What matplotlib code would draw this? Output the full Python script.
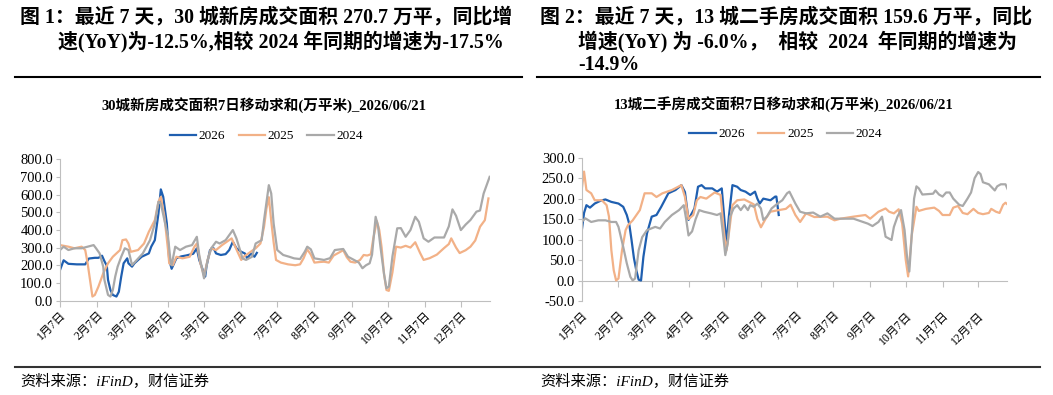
import matplotlib
matplotlib.use("Agg")
import matplotlib.pyplot as plt
from matplotlib.lines import Line2D

SERIF = ["Liberation Serif", "Noto Sans CJK SC"]
plt.rcParams["font.family"] = SERIF

# x axis: days counted from Jan 7
month_ticks = [0, 31, 59, 90, 120, 151, 181, 212, 243, 273, 304, 334]
month_labels = ["1月7日", "2月7日", "3月7日", "4月7日", "5月7日", "6月7日",
                "7月7日", "8月7日", "9月7日", "10月7日", "11月7日", "12月7日"]
years = ["2026", "2025", "2024"]

# 30城新房 7日移动求和 (万平米)
new_2026_day = [0, 3, 7, 14, 21, 24, 29, 32, 35, 37, 39, 40, 42, 44, 47, 49, 51, 53, 56, 57,
                60, 62, 68, 74, 76, 79, 82, 84, 86, 89, 91, 93, 97, 101, 105, 111, 114, 116, 119,
                121, 122, 125, 128, 130, 134, 138, 141, 144, 147, 151, 154, 156, 159, 162, 164]
new_2026_val = [173, 228, 208, 205, 205, 238, 242, 242, 254, 223, 197, 117, 60, 32, 23, 50, 136,
                211, 239, 211, 192, 211, 248, 267, 305, 342, 493, 629, 587, 437, 230, 180, 240,
                250, 255, 265, 296, 230, 173, 136, 192, 286, 296, 267, 258, 263, 286, 333, 296,
                276, 267, 239, 267, 248, 270]

new_2025_day = [0, 7, 12, 18, 21, 23, 25, 27, 29, 32, 36, 40, 44, 47, 50, 52, 55, 57, 59, 65,
                70, 74, 79, 82, 84, 87, 90, 91, 94, 97, 102, 108, 112, 114, 117, 120, 123, 126,
                130, 135, 139, 143, 146, 151, 153, 157, 163, 167, 170, 172, 174, 176, 178, 180,
                184, 190, 196, 200, 203, 206, 209, 212, 216, 220, 224, 228, 232, 236, 239, 242,
                246, 250, 253, 256, 259, 261, 264, 266, 268, 270, 272, 274, 277, 280, 284, 288,
                292, 296, 300, 303, 308, 314, 320, 324, 326, 330, 333, 338, 342, 346, 350, 354, 357]
new_2025_val = [314, 305, 296, 305, 286, 211, 117, 23, 32, 79, 154, 211, 248, 267, 286, 342,
                346, 323, 276, 286, 323, 389, 455, 559, 587, 474, 286, 211, 200, 248, 239, 248,
                305, 323, 211, 140, 230, 296, 286, 314, 333, 352, 305, 230, 248, 267, 296, 323,
                417, 520, 585, 450, 330, 230, 215, 205, 200, 205, 240, 290, 260, 215, 218, 220,
                215, 255, 270, 285, 245, 220, 215, 230, 258, 255, 262, 350, 450, 400, 300, 150,
                60, 55, 160, 305, 300, 310, 300, 330, 270, 230, 240, 260, 297, 320, 352, 300,
                269, 285, 305, 340, 418, 455, 578]

new_2024_day = [0, 3, 7, 12, 18, 23, 28, 30, 33, 36, 37, 40, 42, 44, 46, 48, 51, 54, 57, 60,
                64, 69, 75, 79, 82, 84, 87, 90, 92, 93, 96, 100, 105, 110, 114, 116, 120, 123,
                126, 130, 133, 138, 144, 147, 150, 152, 155, 160, 163, 168, 170, 174, 176, 178,
                181, 186, 191, 195, 200, 204, 206, 209, 212, 220, 225, 229, 236, 240, 245, 249,
                252, 255, 258, 260, 263, 265, 267, 270, 272, 274, 277, 281, 284, 288, 292, 296,
                299, 303, 307, 312, 320, 324, 327, 330, 334, 338, 342, 347, 350, 353, 358]
new_2024_val = [286, 305, 286, 296, 296, 305, 314, 296, 267, 192, 117, 32, 23, 60, 136, 192,
                248, 296, 286, 201, 230, 267, 342, 436, 559, 549, 455, 361, 230, 200, 305, 286,
                305, 314, 361, 258, 126, 230, 296, 333, 323, 342, 399, 352, 286, 239, 230, 248,
                323, 342, 455, 653, 606, 436, 286, 258, 248, 239, 235, 277, 305, 290, 239, 230,
                240, 286, 292, 248, 230, 215, 183, 200, 211, 260, 474, 420, 305, 150, 70, 79,
                250, 409, 410, 361, 399, 474, 446, 352, 333, 357, 357, 420, 516, 480, 399, 430,
                456, 503, 510, 606, 700]

# 13城二手房 7日移动求和 (万平米)
old_2026_day = [0, 2, 4, 7, 11, 16, 20, 25, 31, 35, 38, 40, 42, 44, 46, 48, 50, 52, 55, 59,
                63, 67, 73, 79, 84, 87, 90, 92, 95, 98, 101, 104, 110, 114, 118, 120, 122, 124,
                127, 131, 134, 138, 142, 146, 148, 150, 153, 159, 163, 164, 166]
old_2026_val = [120, 165, 184, 178, 188, 195, 198, 192, 188, 180, 160, 139, 99, 55, 25, 2, 0,
                58, 115, 156, 160, 180, 213, 221, 233, 216, 148, 160, 176, 229, 233, 225, 225,
                217, 225, 156, 90, 156, 233, 229, 221, 217, 209, 217, 200, 188, 200, 196, 205,
                205, 160]

old_2025_day = [0, 2, 4, 8, 11, 17, 21, 23, 25, 27, 29, 31, 34, 37, 39, 43, 49, 53, 59, 63,
                68, 76, 84, 87, 90, 94, 97, 100, 105, 112, 117, 120, 122, 124, 127, 131, 137,
                145, 148, 151, 155, 159, 166, 172, 176, 180, 184, 189, 196, 207, 213, 218, 229,
                239, 243, 250, 256, 259, 263, 267, 270, 273, 275, 278, 282, 284, 290, 297, 301,
                304, 310, 313, 317, 321, 325, 330, 334, 338, 343, 345, 349, 352, 355, 357, 359]
old_2025_val = [221, 266, 221, 213, 196, 196, 184, 156, 74, 25, 0, 5, 74, 123, 135, 147, 172,
                213, 213, 204, 213, 221, 233, 204, 150, 160, 196, 204, 200, 215, 209, 115, 74,
                115, 184, 196, 198, 186, 150, 130, 151, 168, 172, 175, 185, 160, 143, 164, 155,
                156, 147, 151, 156, 160, 151, 168, 176, 168, 164, 174, 139, 50, 10, 110, 180,
                170, 175, 178, 170, 160, 160, 178, 182, 165, 162, 175, 165, 162, 165, 175, 168,
                165, 185, 190, 185]

old_2024_day = [0, 3, 8, 14, 20, 25, 29, 31, 35, 38, 41, 43, 45, 48, 51, 55, 62, 66, 70, 76,
                82, 86, 88, 90, 93, 96, 99, 103, 109, 114, 117, 119, 121, 123, 125, 128, 131,
                134, 137, 140, 142, 145, 148, 151, 153, 156, 160, 165, 169, 173, 175, 180, 184,
                189, 195, 201, 207, 213, 229, 241, 245, 250, 253, 256, 261, 263, 266, 269, 272,
                274, 276, 278, 280, 282, 284, 287, 296, 298, 301, 304, 307, 310, 313, 318, 321,
                325, 328, 331, 334, 336, 338, 343, 348, 350, 353, 357, 359]
old_2024_val = [143, 152, 143, 147, 147, 143, 143, 131, 82, 42, 9, 0, 5, 74, 106, 123, 131,
                127, 143, 160, 172, 184, 150, 110, 120, 150, 172, 168, 164, 160, 164, 115, 62,
                90, 156, 176, 184, 172, 184, 172, 184, 180, 188, 176, 148, 156, 176, 188, 196,
                213, 217, 188, 168, 164, 166, 156, 164, 151, 151, 139, 133, 143, 156, 107, 99,
                131, 156, 172, 123, 60, 22, 110, 200, 230, 225, 210, 212, 220, 210, 205, 215,
                215, 200, 185, 182, 200, 215, 250, 265, 260, 240, 235, 220, 230, 235, 235, 222]

colors = ["#1f5fb0", "#f2b187", "#a9a9a9"]
AXIS_GRAY = "#bfbfbf"

fig = plt.figure(figsize=(10.53, 3.95), dpi=100)


def draw_panel(ax, series, ylim, yticks, zero_frac):
    for (d, v), c, lab in zip(series, colors, years):
        ax.plot(d, v, color=c, lw=1.6, label=lab)
    ax.set_xlim(0, 358)
    ax.set_ylim(*ylim)
    ax.set_yticks(yticks)
    ax.set_yticklabels([f"{t:.1f}" for t in yticks], fontsize=10.5)
    ax.set_xticks(month_ticks)
    ax.set_xticklabels(month_labels, rotation=45, ha="right", rotation_mode="anchor",
                       fontsize=8.5)
    for s in ["top", "right", "bottom"]:
        ax.spines[s].set_visible(False)
    ax.spines["left"].set_color(AXIS_GRAY)
    ax.tick_params(axis="y", length=3, color=AXIS_GRAY, pad=2)
    ax.tick_params(axis="x", length=0, pad=6)
    # category axis line crosses the value axis at 0
    sec = ax.secondary_xaxis(zero_frac)
    sec.set_xticks(month_ticks)
    sec.set_xticklabels([])
    sec.tick_params(axis="x", length=4, color=AXIS_GRAY, direction="out")
    sec.spines["bottom"].set_color(AXIS_GRAY)
    ax.legend(loc="upper center", bbox_to_anchor=(0.48, 1.29), ncol=3, frameon=False,
              fontsize=9.5, handlelength=2.0, columnspacing=1.0, handletextpad=0.2)


ax1 = fig.add_axes([0.057, 0.239, 0.408, 0.358])
draw_panel(ax1, [(new_2026_day, new_2026_val), (new_2025_day, new_2025_val),
                 (new_2024_day, new_2024_val)],
           (0, 800), list(range(0, 801, 100)), 0.0)

ax2 = fig.add_axes([0.5524, 0.238, 0.4036, 0.3628])
draw_panel(ax2, [(old_2026_day, old_2026_val), (old_2025_day, old_2025_val),
                 (old_2024_day, old_2024_val)],
           (-50, 300), list(range(-50, 301, 50)), 50 / 350)

# chart titles
fig.text(0.251, 0.731, "30城新房成交面积7日移动求和(万平米)_2026/06/21", ha="center",
         va="center", fontsize=10.5, fontweight="bold")
fig.text(0.744, 0.735, "13城二手房成交面积7日移动求和(万平米)_2026/06/21", ha="center",
         va="center", fontsize=10.5, fontweight="bold")

# report headers
hdr = dict(fontsize=14.3, fontweight="bold", va="center", ha="left")
fig.text(0.019, 0.955, "图 1：最近 7 天，30 城新房成交面积 270.7 万平，同比增", **hdr)
fig.text(0.055, 0.895, "速(YoY)为-12.5%,相较 2024 年同期的增速为-17.5%", **hdr)
fig.text(0.513, 0.955, "图 2：最近 7 天，13 城二手房成交面积 159.6 万平，同比", **hdr)
fig.text(0.549, 0.895, "增速(YoY) 为 -6.0%，  相较  2024  年同期的增速为", **hdr)
fig.text(0.549, 0.835, "-14.9%", **hdr)

# rules
for x0, x1 in [(0.014, 0.496), (0.51, 0.988)]:
    fig.add_artist(Line2D([x0, x1], [0.805, 0.805], color="black", lw=1.5))
fig.add_artist(Line2D([0.014, 0.988], [0.07, 0.07], color="#333333", lw=1.5))

# sources
src = dict(fontsize=11, style="italic", va="center", ha="left")
fig.text(0.019, 0.035, "资料来源：iFinD，财信证券", **src)
fig.text(0.513, 0.035, "资料来源：iFinD，财信证券", **src)

fig.savefig("out.png", dpi=100)
